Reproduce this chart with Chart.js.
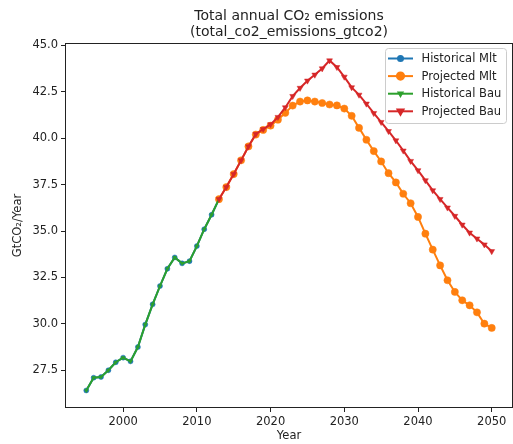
<!DOCTYPE html>
<html>
<head>
<meta charset="utf-8">
<script src="https://cdn.jsdelivr.net/npm/chart.js@4/dist/chart.umd.min.js"></script>
<style>
  html, body { margin: 0; padding: 0; background: #ffffff; }
  #wrap { width: 513px; height: 444px; }
</style>
</head>
<body>
<div id="wrap"><canvas id="c" width="513" height="444"></canvas></div>
<script>
// Historical emissions (GtCO2/year)
const histYears = [1995, 1996, 1997, 1998, 1999, 2000, 2001, 2002, 2003, 2004,
                   2005, 2006, 2007, 2008, 2009, 2010, 2011, 2012, 2013];
const histValues = [26.41, 27.10, 27.14, 27.50, 27.93, 28.18, 27.98, 28.75, 29.96, 31.05,
                    32.04, 32.97, 33.58, 33.26, 33.38, 34.19, 35.10, 35.88, 36.72];

// Projections 2013-2050
const projYears = [2013, 2014, 2015, 2016, 2017, 2018, 2019, 2020, 2021, 2022,
                   2023, 2024, 2025, 2026, 2027, 2028, 2029, 2030, 2031, 2032,
                   2033, 2034, 2035, 2036, 2037, 2038, 2039, 2040, 2041, 2042,
                   2043, 2044, 2045, 2046, 2047, 2048, 2049, 2050];
const projMlt = [36.72, 37.37, 38.07, 38.81, 39.56, 40.20, 40.45, 40.68, 41.00, 41.37,
                 41.76, 41.98, 42.04, 41.98, 41.90, 41.82, 41.77, 41.60, 41.21, 40.56,
                 39.92, 39.31, 38.75, 38.12, 37.62, 37.01, 36.50, 35.76, 34.86, 34.00,
                 33.15, 32.35, 31.72, 31.27, 31.00, 30.62, 30.01, 29.78];
const projBau = [36.72, 37.37, 38.07, 38.81, 39.56, 40.23, 40.49, 40.75, 41.14, 41.66,
                 42.27, 42.71, 43.10, 43.42, 43.76, 44.19, 43.83, 43.31, 42.74, 42.34,
                 41.86, 41.35, 40.87, 40.38, 39.88, 39.33, 38.77, 38.27, 37.73, 37.19,
                 36.72, 36.26, 35.81, 35.34, 34.91, 34.59, 34.27, 33.91];

const seriesNames = ['Historical Mlt', 'Projected Mlt', 'Historical Bau', 'Projected Bau'];
const xTicks = [2000, 2010, 2020, 2030, 2040, 2050];
const yTicks = [27.5, 30.0, 32.5, 35.0, 37.5, 40.0, 42.5, 45.0];

const FONT = 'DejaVu Sans';
const INK = '#222222';
const COLORS = { blue: '#1f77b4', orange: '#ff7f0e', green: '#2ca02c', red: '#d62728' };

const toPoints = (xs, ys) => xs.map((x, i) => ({ x: x, y: ys[i] }));

// Marker style used both on the lines and in the legend
const markers = [
  { color: COLORS.blue,   style: 'circle',   radius: 2.5, rotation: 0 },
  { color: COLORS.orange, style: 'circle',   radius: 3.6, rotation: 0 },
  { color: COLORS.green,  style: 'triangle', radius: 2.2, rotation: 180 },
  { color: COLORS.red,    style: 'triangle', radius: 3.4, rotation: 180 }
];
const seriesData = [
  toPoints(histYears, histValues),
  toPoints(projYears, projMlt),
  toPoints(histYears, histValues),
  toPoints(projYears, projBau)
];

const datasets = seriesNames.map((name, i) => ({
  label: name,
  data: seriesData[i],
  borderColor: markers[i].color,
  backgroundColor: markers[i].color,
  borderWidth: 2,
  pointStyle: markers[i].style,
  pointRotation: markers[i].rotation,
  pointRadius: markers[i].radius,
  pointBorderWidth: 0.5,
  pointBackgroundColor: markers[i].color,
  pointBorderColor: markers[i].color,
  tension: 0,
  order: seriesNames.length - i   // later series are drawn on top
}));

// Axes frame and in-axes legend
const framePlugin = {
  id: 'frameAndLegend',
  afterDatasetsDraw(chart) {
    const { ctx, chartArea: a } = chart;
    ctx.save();
    ctx.strokeStyle = INK;
    ctx.lineWidth = 1;
    ctx.strokeRect(Math.round(a.left) - 0.5, Math.round(a.top) - 0.5,
                   Math.round(a.right - a.left) + 1, Math.round(a.bottom - a.top) + 1);

    // legend box
    const bx = 385.5, by = 48.5, bw = 121, bh = 75, r = 3;
    ctx.beginPath();
    ctx.moveTo(bx + r, by);
    ctx.lineTo(bx + bw - r, by);
    ctx.arcTo(bx + bw, by, bx + bw, by + r, r);
    ctx.lineTo(bx + bw, by + bh - r);
    ctx.arcTo(bx + bw, by + bh, bx + bw - r, by + bh, r);
    ctx.lineTo(bx + r, by + bh);
    ctx.arcTo(bx, by + bh, bx, by + bh - r, r);
    ctx.lineTo(bx, by + r);
    ctx.arcTo(bx, by, bx + r, by, r);
    ctx.closePath();
    ctx.fillStyle = 'rgba(255,255,255,0.8)';
    ctx.fill();
    ctx.strokeStyle = '#cccccc';
    ctx.stroke();

    ctx.font = '11.5px "' + FONT + '"';
    ctx.textBaseline = 'middle';
    ctx.textAlign = 'left';
    seriesNames.forEach((name, i) => {
      const y = 58.5 + i * 17.6;
      const m = markers[i];
      ctx.strokeStyle = m.color;
      ctx.lineWidth = 2;
      ctx.beginPath();
      ctx.moveTo(388, y);
      ctx.lineTo(413, y);
      ctx.stroke();
      ctx.fillStyle = m.color;
      Chart.helpers.drawPoint(ctx, {
        pointStyle: m.style, radius: m.radius, rotation: m.rotation, borderWidth: 0.5
      }, 400.5, y);
      ctx.fillStyle = INK;
      ctx.fillText(name, 421.5, y + 0.5);
    });
    ctx.restore();
  }
};

new Chart(document.getElementById('c'), {
  type: 'line',
  data: { datasets: datasets },
  options: {
    responsive: false,
    animation: false,
    events: [],
    layout: { autoPadding: false, padding: { left: 0, right: 1, top: 0, bottom: 0 } },
    plugins: {
      legend: { display: false },
      tooltip: { enabled: false },
      title: {
        display: true,
        fullSize: false,
        text: ['Total annual CO\u2082 emissions', '(total_co2_emissions_gtco2)'],
        color: INK,
        font: { family: FONT, size: 14, weight: 'normal', lineHeight: 1.15 },
        padding: { top: 8, bottom: 3.8 }
      }
    },
    scales: {
      x: {
        type: 'linear',
        min: 1992.25,
        max: 2052.75,
        afterBuildTicks: (s) => { s.ticks = xTicks.map(v => ({ value: v })); },
        afterFit: (s) => { s.height = 37; s.paddingLeft = 0; s.paddingRight = 0; },
        ticks: {
          autoSkip: false, maxRotation: 0, padding: 3, color: INK,
          font: { family: FONT, size: 11.5 },
          callback: (v) => String(v)
        },
        grid: { drawOnChartArea: false, tickLength: 5, tickColor: INK, tickWidth: 1 },
        border: { display: false },
        title: {
          display: true, text: 'Year', color: INK,
          font: { family: FONT, size: 11.5, lineHeight: 1.2 },
          padding: { top: 0, bottom: 1.1 }
        }
      },
      y: {
        type: 'linear',
        min: 25.52,
        max: 45.08,
        afterBuildTicks: (s) => { s.ticks = yTicks.map(v => ({ value: v })); },
        afterFit: (s) => { s.width = 66; s.paddingTop = 0; s.paddingBottom = 0; },
        ticks: {
          padding: 3, color: INK,
          font: { family: FONT, size: 11.5 },
          callback: (v) => Number(v).toFixed(1)
        },
        grid: { drawOnChartArea: false, tickLength: 5, tickColor: INK, tickWidth: 1 },
        border: { display: false },
        title: {
          display: true, text: 'GtCO\u2082/Year', color: INK,
          font: { family: FONT, size: 11.5, lineHeight: 1.2 },
          padding: { top: 11.1, bottom: 0 }
        }
      }
    }
  },
  plugins: [framePlugin]
});
</script>
</body>
</html>
